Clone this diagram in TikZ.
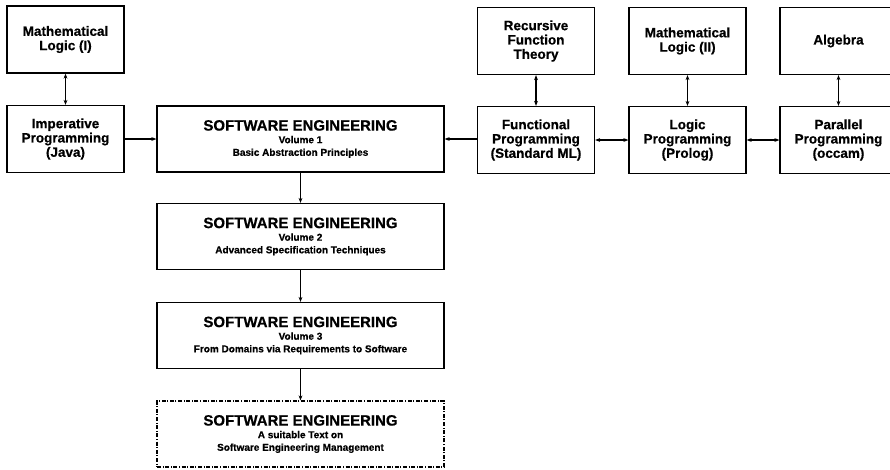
\documentclass[tikz,border=0pt]{standalone}
\usepackage{fontspec}
\setmainfont{Liberation Sans}[BoldFeatures={FakeBold=0.6}]
\usetikzlibrary{arrows.meta}
\begin{document}
\begin{tikzpicture}[x=1pt,y=-1pt,
  box/.style={draw,line width=1.2pt,rectangle,inner sep=0pt,align=center,
    font=\bfseries\fontsize{13.5}{14.3}\selectfont},
  smallbox/.style={box,minimum width=117pt,minimum height=67pt},
  sebox/.style={box,minimum width=287pt,minimum height=66pt,
    font=\bfseries\fontsize{10}{12.6}\selectfont},
  conn/.style={line width=1.1pt,-{Stealth[length=5pt,width=3.8pt]}},
  biconn/.style={line width=1.1pt,{Stealth[length=5pt,width=3.8pt]}-{Stealth[length=5pt,width=3.8pt]}},
  ]
\useasboundingbox (0,0) rectangle (890,469);
\fill[white] (0,0) rectangle (890,469);
\clip (0,0) rectangle (890,469);
\newcommand{\setitle}{{\fontsize{15}{12.6}\selectfont SOFTWARE ENGINEERING}}
% top row
\node[smallbox] (ml1) at (65.5,39.5) {Mathematical\\Logic (I)};
\node[smallbox] (rft) at (536,41) {Recursive\\Function\\Theory};
\node[smallbox] (ml2) at (687.5,41) {Mathematical\\Logic (II)};
\node[smallbox] (alg) at (838.5,41) {Algebra};
% middle row
\node[smallbox] (imp) at (65.5,139) {Imperative\\Programming\\(Java)};
\node[sebox] (se1) at (300.5,139) {\setitle\\Volume 1\\Basic Abstraction Principles};
\node[smallbox] (fun) at (536,140) {Functional\\Programming\\(Standard ML)};
\node[smallbox] (lp) at (687.5,140) {Logic\\Programming\\(Prolog)};
\node[smallbox] (pp) at (838.5,140) {Parallel\\Programming\\(occam)};
% column
\node[sebox] (se2) at (300.5,236.5) {\setitle\\Volume 2\\Advanced Specification Techniques};
\node[sebox] (se3) at (300.5,335.5) {\setitle\\Volume 3\\From Domains via Requirements to Software};
\node[sebox,dash pattern=on 4pt off 1.6pt on 1pt off 1.6pt] (se4) at (300.5,434)
  {\setitle\\A suitable Text on\\Software Engineering Management};
% connectors
\draw[biconn] (ml1) -- (imp);
\draw[biconn] (rft) -- (fun);
\draw[biconn] (ml2) -- (lp);
\draw[biconn] (alg) -- (pp);
\draw[conn] (imp.east |- se1.west) -- (se1.west);
\draw[conn] (fun.west |- se1.east) -- (se1.east);
\draw[biconn] (fun.east) -- (lp.west);
\draw[biconn] (lp.east) -- (pp.west);
\draw[conn] (se1) -- (se2);
\draw[conn] (se2) -- (se3);
\draw[conn] (se3) -- (se4);
\end{tikzpicture}
\end{document}
